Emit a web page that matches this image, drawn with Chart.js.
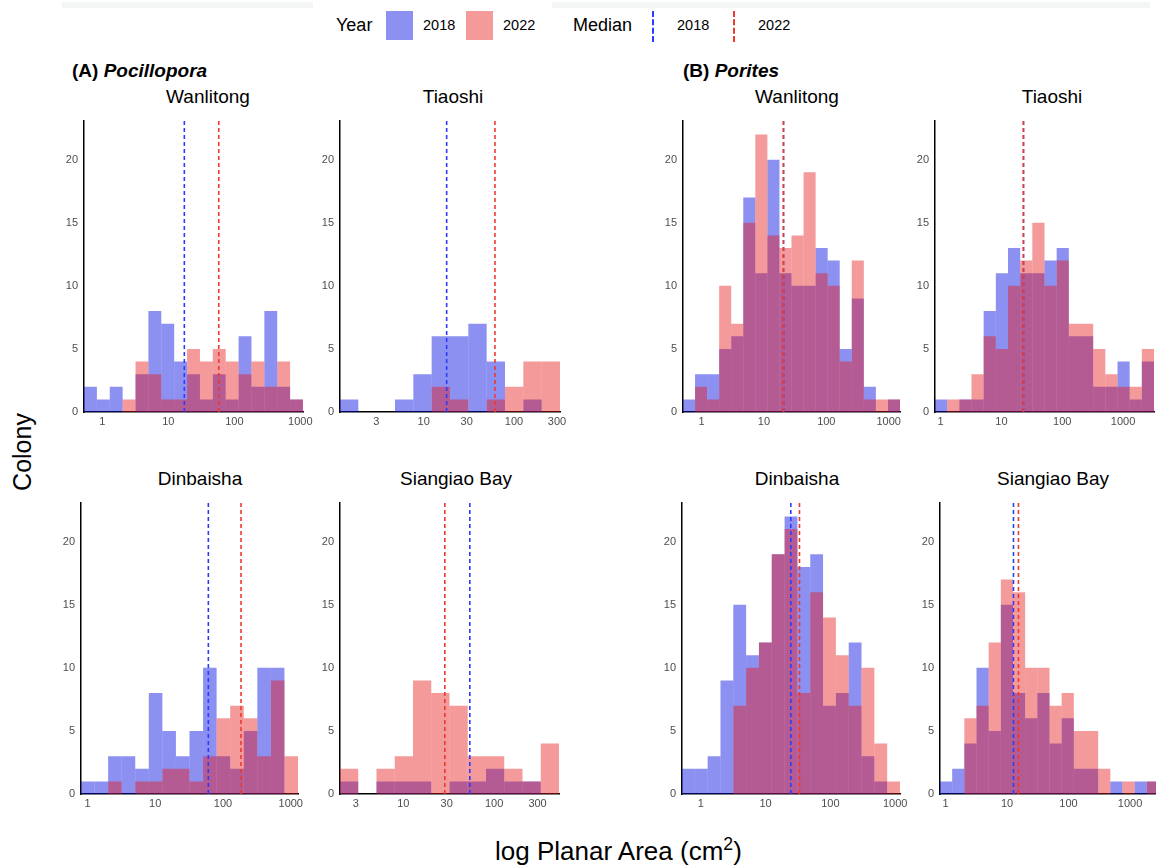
<!DOCTYPE html>
<html>
<head>
<meta charset="utf-8">
<script src="https://cdn.jsdelivr.net/npm/chart.js@4.4.0/dist/chart.umd.min.js"></script>
<style>
  html, body { margin: 0; padding: 0; background: #fff; overflow: hidden; }
  #page { position: relative; width: 1156px; height: 867px; font-family: "Liberation Sans", Arial, sans-serif; color: #000; }
  .txt { position: absolute; white-space: nowrap; line-height: 1; }
  .band { position: absolute; background: #f3f6f5; height: 6px; top: 2px; }
  .sw { position: absolute; width: 27px; height: 29px; top: 11px; }
  .dash { position: absolute; top: 11px; height: 31px; width: 0; border-left: 2px dashed; }
  canvas { position: absolute; }
  .strip { font-size: 19px; }
</style>
</head>
<body>
<div id="page">
  <div class="band" style="left:62px; width:251px;"></div>
  <div class="band" style="left:552px; width:598px;"></div>

  <!-- legend -->
  <div class="txt" style="left:336px; top:16px; font-size:18px;">Year</div>
  <div class="sw" style="left:386px; background: rgba(0,10,225,0.45);"></div>
  <div class="txt" style="left:423px; top:18px; font-size:14.5px;">2018</div>
  <div class="sw" style="left:466px; background: rgba(230,20,20,0.43);"></div>
  <div class="txt" style="left:503px; top:18px; font-size:14.5px;">2022</div>
  <div class="txt" style="left:573px; top:16px; font-size:18px;">Median</div>
  <div class="dash" style="left:652px; border-color:#2b3bff;"></div>
  <div class="txt" style="left:677px; top:18px; font-size:14.5px;">2018</div>
  <div class="dash" style="left:733px; border-color:#ee3a2e;"></div>
  <div class="txt" style="left:758px; top:18px; font-size:14.5px;">2022</div>

  <!-- group titles -->
  <div class="txt" style="left:72px; top:61px; font-size:19px; font-weight:bold;">(A) <i>Pocillopora</i></div>
  <div class="txt" style="left:683px; top:61px; font-size:19px; font-weight:bold;">(B) <i>Porites</i></div>

  <!-- facet titles -->
  <div class="txt strip" style="left:208px; top:87px; transform:translateX(-50%);">Wanlitong</div>
  <div class="txt strip" style="left:453px; top:87px; transform:translateX(-50%);">Tiaoshi</div>
  <div class="txt strip" style="left:200px; top:469px; transform:translateX(-50%);">Dinbaisha</div>
  <div class="txt strip" style="left:456px; top:469px; transform:translateX(-50%);">Siangiao Bay</div>
  <div class="txt strip" style="left:797px; top:87px; transform:translateX(-50%);">Wanlitong</div>
  <div class="txt strip" style="left:1052px; top:87px; transform:translateX(-50%);">Tiaoshi</div>
  <div class="txt strip" style="left:797px; top:469px; transform:translateX(-50%);">Dinbaisha</div>
  <div class="txt strip" style="left:1053px; top:469px; transform:translateX(-50%);">Siangiao Bay</div>

  <!-- axis titles -->
  <div class="txt" style="left:22px; top:452px; font-size:25px; transform:translate(-50%,-50%) rotate(-90deg);">Colony</div>
  <div class="txt" style="left:495px; top:838px; font-size:26px;">log Planar Area (cm<sup style="font-size:0.68em; vertical-align:0.55em; line-height:0;">2</sup>)</div>

  <canvas id="aWan"></canvas>
  <canvas id="aTia"></canvas>
  <canvas id="aDin"></canvas>
  <canvas id="aSia"></canvas>
  <canvas id="bWan"></canvas>
  <canvas id="bTia"></canvas>
  <canvas id="bDin"></canvas>
  <canvas id="bSia"></canvas>
</div>

<script>
// y axis, shared by all facets
const yTicks = [0, 5, 10, 15, 20];
const yMax = 23.1;

// x tick labels (planar area, cm2), placed on a log10 axis
const ticksWide = ['1', '10', '100', '1000'];
const ticksNarrow = ['3', '10', '30', '100', '300'];

// Pocillopora - Wanlitong (log10 range of bins, counts per bin, medians in log10)
const pocWanRange = [-0.279, 3.041];
const pocWan2018 = [2, 1, 2, 0, 3, 8, 7, 4, 3, 1, 3, 1, 6, 2, 8, 2, 1];
const pocWan2022 = [0, 0, 0, 1, 4, 3, 1, 1, 5, 4, 5, 4, 3, 4, 2, 4, 1];
const pocWanMedian = [1.242, 1.764];

// Pocillopora - Tiaoshi
const pocTiaRange = [0.074, 2.510];
const pocTia2018 = [1, 0, 0, 1, 3, 6, 6, 7, 4, 0, 1, 0];
const pocTia2022 = [0, 0, 0, 0, 0, 2, 1, 0, 1, 2, 4, 4];
const pocTiaMedian = [1.255, 1.790];

// Pocillopora - Dinbaisha
const pocDinRange = [-0.095, 3.107];
const pocDin2018 = [1, 1, 3, 3, 2, 8, 5, 3, 5, 10, 3, 2, 5, 10, 10, 0];
const pocDin2022 = [0, 0, 1, 0, 1, 1, 2, 2, 1, 3, 6, 7, 6, 3, 9, 3];
const pocDinMedian = [1.784, 2.266];

// Pocillopora - Siangiao Bay
const pocSiaRange = [0.304, 2.713];
const pocSia2018 = [1, 0, 1, 1, 1, 0, 1, 1, 2, 1, 1, 0];
const pocSia2022 = [2, 0, 2, 3, 9, 8, 7, 3, 3, 2, 1, 4];
const pocSiaMedian = [1.732, 1.457];

// Porites - Wanlitong
const porWanRange = [-0.299, 3.182];
const porWan2018 = [1, 3, 3, 5, 6, 17, 11, 20, 11, 10, 10, 13, 12, 5, 9, 2, 0, 1];
const porWan2022 = [0, 2, 1, 10, 7, 15, 22, 14, 13, 14, 19, 11, 10, 4, 12, 1, 1, 1];
const porWanMedian = [1.313, 1.313];

// Porites - Tiaoshi
const porTiaRange = [-0.093, 3.509];
const porTia2018 = [1, 0, 1, 1, 8, 11, 13, 11, 11, 12, 13, 6, 6, 2, 2, 4, 1, 4];
const porTia2022 = [0, 1, 1, 3, 6, 5, 10, 12, 15, 10, 12, 7, 7, 5, 3, 2, 2, 5];
const porTiaMedian = [1.362, 1.362];

// Porites - Dinbaisha
const porDinRange = [-0.291, 3.075];
const porDin2018 = [2, 2, 3, 9, 15, 11, 12, 19, 22, 18, 19, 7, 8, 12, 3, 1, 0];
const porDin2022 = [0, 0, 0, 0, 7, 10, 12, 19, 21, 8, 16, 14, 11, 7, 10, 4, 1];
const porDinMedian = [1.389, 1.523];

// Porites - Siangiao Bay
const porSiaRange = [-0.089, 3.47];
const porSia2018 = [1, 2, 4, 10, 5, 15, 8, 6, 8, 4, 6, 2, 2, 0, 1, 0, 1, 1];
const porSia2022 = [0, 0, 6, 7, 12, 17, 16, 10, 10, 7, 8, 5, 5, 2, 0, 1, 0, 1];
const porSiaMedian = [1.105, 1.186];

// styling
const blueFill = 'rgba(0,10,225,0.45)';
const redFill = 'rgba(230,20,20,0.43)';
const blueLine = '#2b3bff';
const redLine = '#ee3a2e';
const tickColor = '#4d4d4d';
const YW = 34, XH = 30, PT = 8, PR = 14;

function histBars(range, counts) {
  const w = (range[1] - range[0]) / counts.length;
  return counts.map((c, i) => ({ x: range[0] + (i + 0.5) * w, y: c }));
}

function medianLine(m, color, order) {
  return {
    type: 'line',
    data: [{ x: m, y: 0 }, { x: m, y: yMax }],
    borderColor: color,
    borderWidth: 1.6,
    borderDash: [4, 3],
    pointRadius: 0,
    order: order
  };
}

function drawPanel(id, box, range, c2018, c2022, medians, tickLabels) {
  const canvas = document.getElementById(id);
  const w = box.r - box.l + YW + PR;
  const h = box.b - box.t + PT + XH;
  canvas.width = w;
  canvas.height = h;
  canvas.style.left = (box.l - YW) + 'px';
  canvas.style.top = (box.t - PT) + 'px';
  canvas.style.width = w + 'px';
  canvas.style.height = h + 'px';

  // ratio just under 1 so Chart.js does not inflate (and overlap) adjacent bins
  const barOpts = { grouped: false, barPercentage: 0.9999, categoryPercentage: 1, borderWidth: 0 };

  new Chart(canvas, {
    type: 'bar',
    data: {
      datasets: [
        medianLine(medians[1], redLine, 0),
        medianLine(medians[0], blueLine, 1),
        Object.assign({ data: histBars(range, c2022), backgroundColor: redFill, order: 2 }, barOpts),
        Object.assign({ data: histBars(range, c2018), backgroundColor: blueFill, order: 3 }, barOpts)
      ]
    },
    options: {
      responsive: false,
      animation: false,
      layout: { padding: { top: PT, right: PR, left: 0, bottom: 0 } },
      plugins: { legend: { display: false }, tooltip: { enabled: false } },
      scales: {
        x: {
          type: 'linear',
          offset: false,
          min: range[0],
          max: range[1],
          grid: { display: false, drawTicks: false },
          border: { display: true, color: '#000', width: 1.5 },
          afterBuildTicks: s => { s.ticks = tickLabels.map(t => ({ value: Math.log10(Number(t)) })); },
          afterFit: s => { s.height = XH; },
          ticks: {
            autoSkip: false,
            maxRotation: 0,
            padding: 3,
            color: tickColor,
            font: { family: 'Liberation Sans', size: 11 },
            callback: (v, i) => tickLabels[i]
          }
        },
        y: {
          min: 0,
          max: yMax,
          grid: { display: false, drawTicks: false },
          border: { display: true, color: '#000', width: 1.5 },
          afterBuildTicks: s => { s.ticks = yTicks.map(v => ({ value: v })); },
          afterFit: s => { s.width = YW; },
          ticks: {
            padding: 6,
            color: tickColor,
            font: { family: 'Liberation Sans', size: 11 }
          }
        }
      }
    }
  });
}

drawPanel('aWan', { l: 84, r: 303, t: 116, b: 412 }, pocWanRange, pocWan2018, pocWan2022, pocWanMedian, ticksWide);
drawPanel('aTia', { l: 340, r: 560, t: 116, b: 412 }, pocTiaRange, pocTia2018, pocTia2022, pocTiaMedian, ticksNarrow);
drawPanel('aDin', { l: 81, r: 298, t: 498, b: 794 }, pocDinRange, pocDin2018, pocDin2022, pocDinMedian, ticksWide);
drawPanel('aSia', { l: 340, r: 559, t: 498, b: 794 }, pocSiaRange, pocSia2018, pocSia2022, pocSiaMedian, ticksNarrow);
drawPanel('bWan', { l: 683, r: 900, t: 116, b: 412 }, porWanRange, porWan2018, porWan2022, porWanMedian, ticksWide);
drawPanel('bTia', { l: 935, r: 1154, t: 116, b: 412 }, porTiaRange, porTia2018, porTia2022, porTiaMedian, ticksWide);
drawPanel('bDin', { l: 682, r: 900, t: 498, b: 794 }, porDinRange, porDin2018, porDin2022, porDinMedian, ticksWide);
drawPanel('bSia', { l: 940, r: 1159, t: 498, b: 794 }, porSiaRange, porSia2018, porSia2022, porSiaMedian, ticksWide);
</script>
</body>
</html>
